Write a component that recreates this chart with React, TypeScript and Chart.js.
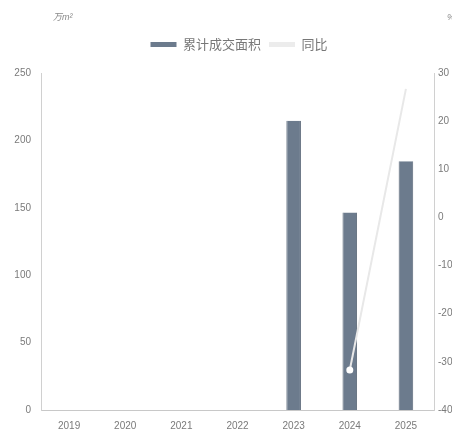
import React, { useEffect, useRef } from "react";
import { Chart, registerables } from "chart.js";

Chart.register(...registerables);

const years = ["2019", "2020", "2021", "2022", "2023", "2024", "2025"];
const areaValues = [null, null, null, null, 214.5, 146.5, 184.5];
const yoyValues = [null, null, null, null, null, -31.7, 26.7];
const leftTicks = [0, 50, 100, 150, 200, 250];
const rightTicks = [-40, -30, -20, -10, 0, 10, 20, 30];

const FONT = "'Liberation Sans', 'Noto Sans CJK SC', sans-serif";
const CJK = "'Noto Sans CJK SC', sans-serif";

// unit captions above both value axes
const unitLabels = {
  id: "unitLabels",
  afterDraw(chart: any) {
    const ctx = chart.ctx;
    ctx.save();
    ctx.fillStyle = "#8a8a8a";
    ctx.font = `italic 9px ${FONT}`;
    ctx.textBaseline = "middle";
    ctx.textAlign = "left";
    ctx.fillText("万m²", 53, 17);
    ctx.fillText("%", 447, 17);
    ctx.restore();
  },
};

// extra room below the legend row, and legend centred over the plot
const legendRoom = {
  id: "legendRoom",
  beforeLayout(chart: any) {
    const legend = chart.legend;
    if (legend && !legend._roomPatched) {
      const fit = legend.fit.bind(legend);
      legend.fit = function () {
        fit();
        this.height += 12;
      };
      legend._roomPatched = true;
    }
  },
  afterLayout(chart: any) {
    const legend = chart.legend;
    if (legend) legend.left += 26;
  },
};

export default function App() {
  const ref = useRef<HTMLCanvasElement>(null);

  useEffect(() => {
    document.body.style.margin = "0";
    const chart = new Chart(ref.current!, {
      type: "bar",
      data: {
        labels: years,
        datasets: [
          {
            type: "bar",
            label: "累计成交面积",
            data: areaValues,
            backgroundColor: "#6c7b8d",
            borderColor: "#5d6a7a",
            borderWidth: { left: 1, right: 1, top: 0, bottom: 0 } as any,
            barPercentage: 0.5,
            categoryPercentage: 0.52,
            yAxisID: "y",
            order: 2,
          },
          {
            type: "line",
            label: "同比",
            data: yoyValues,
            borderColor: "#e8e8e8",
            backgroundColor: "#ffffff",
            borderWidth: 2,
            pointRadius: [0, 0, 0, 0, 0, 3.5, 0],
            pointBorderWidth: 0,
            pointBackgroundColor: "#ffffff",
            spanGaps: false,
            yAxisID: "y1",
            order: 1,
            clip: false as any,
          },
        ],
      },
      options: {
        animation: false,
        responsive: false,
        layout: { padding: { top: 30, left: 0, right: 0, bottom: 0 } },
        plugins: {
          legend: {
            display: true,
            position: "top",
            labels: {
              font: { family: CJK, size: 13 },
              color: "#777777",
              boxWidth: 26,
              boxHeight: 5,
              padding: 8,
              generateLabels() {
                return [
                  {
                    text: "累计成交面积",
                    fillStyle: "#6c7b8d",
                    strokeStyle: "#6c7b8d",
                    lineWidth: 0,
                    datasetIndex: 0,
                    fontColor: "#777777",
                  },
                  {
                    text: "同比",
                    fillStyle: "#ececec",
                    strokeStyle: "#ececec",
                    lineWidth: 0,
                    datasetIndex: 1,
                    fontColor: "#777777",
                  },
                ] as any;
              },
            },
          },
          tooltip: { enabled: false },
        },
        scales: {
          x: {
            grid: { display: false, drawTicks: false },
            border: { color: "#c8c8c8", width: 1 },
            ticks: {
              font: { family: FONT, size: 10 },
              color: "#7a7a7a",
              padding: 10,
              maxRotation: 0,
            },
            afterFit(scale: any) {
              scale.height = 25;
            },
          },
          y: {
            position: "left",
            min: 0,
            max: 250,
            afterBuildTicks(scale: any) {
              scale.ticks = leftTicks.map((v) => ({ value: v }));
            },
            grid: { display: false, drawTicks: false },
            border: { color: "#d0d0d0", width: 1 },
            ticks: {
              font: { family: FONT, size: 10 },
              color: "#7a7a7a",
              padding: 10,
            },
            afterFit(scale: any) {
              scale.width = 41;
            },
          },
          y1: {
            position: "right",
            min: -40,
            max: 30,
            afterBuildTicks(scale: any) {
              scale.ticks = rightTicks.map((v) => ({ value: v }));
            },
            grid: { display: false, drawOnChartArea: false, drawTicks: false },
            border: { color: "#d0d0d0", width: 1 },
            ticks: {
              font: { family: FONT, size: 10 },
              color: "#7a7a7a",
              padding: 4,
            },
            afterFit(scale: any) {
              scale.width = 18;
            },
          },
        },
      },
      plugins: [unitLabels, legendRoom],
    });
    return () => chart.destroy();
  }, []);

  return (
    <div style={{ position: "absolute", left: 0, top: 0, width: 452, height: 435, background: "#ffffff" }}>
      <canvas ref={ref} width={452} height={435} />
    </div>
  );
}
